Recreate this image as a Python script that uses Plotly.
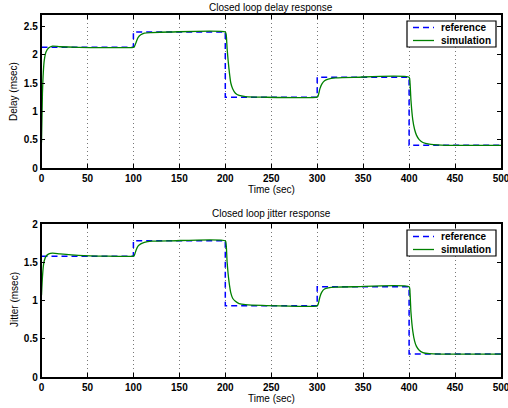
import plotly.graph_objects as go

# reference set-points (step changes)
ref_t = [0, 100, 200, 300, 400, 500]
delay_ref = [2.13, 2.40, 1.25, 1.60, 0.40, 0.40]
jitter_ref = [1.58, 1.78, 0.93, 1.18, 0.30, 0.30]

# simulated closed loop response
sim_t = [0, 1, 2, 3, 5, 8, 12, 20, 40, 100,
         101, 103, 105, 108, 112, 120, 140, 200,
         201, 202, 204, 206, 208, 211, 215, 222, 240, 300,
         301, 303, 305, 308, 312, 320, 340, 400,
         401, 402, 404, 406, 408, 411, 415, 422, 435, 450, 500]
delay_sim = [0.45, 1.30, 1.70, 1.90, 2.05, 2.12, 2.15, 2.14, 2.13, 2.13,
             2.14, 2.22, 2.30, 2.35, 2.38, 2.39, 2.40, 2.40,
             2.35, 2.10, 1.75, 1.50, 1.40, 1.32, 1.28, 1.26, 1.25, 1.25,
             1.27, 1.40, 1.48, 1.54, 1.57, 1.59, 1.60, 1.60,
             1.50, 1.20, 0.85, 0.68, 0.58, 0.50, 0.45, 0.42, 0.405, 0.40, 0.40]
jitter_sim = [1.07, 1.30, 1.45, 1.52, 1.58, 1.61, 1.62, 1.61, 1.59, 1.58,
              1.59, 1.66, 1.71, 1.74, 1.76, 1.775, 1.78, 1.78,
              1.72, 1.50, 1.25, 1.10, 1.03, 0.99, 0.96, 0.945, 0.935, 0.93,
              0.95, 1.05, 1.11, 1.15, 1.165, 1.175, 1.18, 1.18,
              1.10, 0.85, 0.60, 0.47, 0.40, 0.35, 0.32, 0.305, 0.30, 0.30, 0.30]

FONT = "Liberation Sans, Arial, sans-serif"
BLUE = "#0000ff"
GREEN = "#008000"
W, H = 508, 408

fig = go.Figure()

fig.add_trace(go.Scatter(x=ref_t, y=delay_ref, mode="lines", name="reference",
                         line=dict(color=BLUE, width=1.5, dash="6px,4px", shape="hv"),
                         xaxis="x", yaxis="y"))
fig.add_trace(go.Scatter(x=sim_t, y=delay_sim, mode="lines", name="simulation",
                         line=dict(color=GREEN, width=1.3, shape="spline", smoothing=0.6),
                         xaxis="x", yaxis="y"))
fig.add_trace(go.Scatter(x=ref_t, y=jitter_ref, mode="lines", name="reference",
                         line=dict(color=BLUE, width=1.5, dash="6px,4px", shape="hv"),
                         xaxis="x2", yaxis="y2"))
fig.add_trace(go.Scatter(x=sim_t, y=jitter_sim, mode="lines", name="simulation",
                         line=dict(color=GREEN, width=1.3, shape="spline", smoothing=0.6),
                         xaxis="x2", yaxis="y2"))

x_dom = [41.5 / W, 501 / W]
top_dom = [1 - 168 / H, 1 - 15 / H]
bot_dom = [1 - 377 / H, 1 - 224 / H]

tickfont = dict(family=FONT, size=10, color="black", weight="bold")
xax = dict(range=[0, 500], tickvals=list(range(0, 501, 50)), showgrid=True,
           gridcolor="#777777", griddash="1px,3px", gridwidth=0.8,
           showline=True, linecolor="black", linewidth=1.5, mirror="allticks",
           ticks="inside", ticklen=4, tickcolor="black", tickfont=tickfont,
           ticklabeloverflow="allow", zeroline=False, domain=x_dom, automargin=False)
yax = dict(showgrid=False, showline=True, linecolor="black", linewidth=1.5,
           mirror="allticks", ticks="inside", ticklen=4, tickcolor="black",
           tickfont=tickfont, zeroline=False, automargin=False)


def px(x):
    return x / W


def py(y):
    return 1 - y / H


# hand drawn legend boxes, one per panel
shapes = []
annotations = []
for dy in (0, 209):
    shapes.append(dict(type="rect", xref="paper", yref="paper",
                       x0=px(407), x1=px(496), y0=py(21 + dy), y1=py(47 + dy),
                       line=dict(color="black", width=1.2), fillcolor="white", layer="above"))
    shapes.append(dict(type="line", xref="paper", yref="paper",
                       x0=px(413), x1=px(434), y0=py(27.5 + dy), y1=py(27.5 + dy),
                       line=dict(color=BLUE, width=1.5, dash="6px,4px"), layer="above"))
    shapes.append(dict(type="line", xref="paper", yref="paper",
                       x0=px(413), x1=px(434), y0=py(40.5 + dy), y1=py(40.5 + dy),
                       line=dict(color=GREEN, width=1.3), layer="above"))
    for label, yy in (("reference", 27.5), ("simulation", 40.5)):
        annotations.append(dict(text=label, x=px(439), y=py(yy + dy), xref="paper", yref="paper",
                                xanchor="left", yanchor="middle", showarrow=False,
                                font=dict(size=10, weight="bold")))

for text, x, y, ang in (("Closed loop delay response", 271, 7, 0),
                        ("Time (sec)", 271, 189, 0),
                        ("Delay (msec)", 14, 92, -90),
                        ("Closed loop jitter response", 271, 213, 0),
                        ("Time (sec)", 271, 398, 0),
                        ("Jitter (msec)", 14, 300, -90)):
    annotations.append(dict(text=text, x=px(x), y=py(y), xref="paper", yref="paper",
                            xanchor="center", yanchor="middle",
                            showarrow=False, textangle=ang, font=dict(size=10)))

fig.update_layout(
    width=W, height=H,
    margin=dict(l=0, r=0, t=0, b=0),
    paper_bgcolor="white", plot_bgcolor="white",
    font=dict(family=FONT, size=10, color="black"),
    showlegend=False,
    xaxis=dict(xax, anchor="y"),
    yaxis=dict(yax, range=[0, 2.7], tickvals=[0, 0.5, 1, 1.5, 2, 2.5],
               ticktext=["0", "0.5", "1", "1.5", "2", "2.5"], domain=top_dom, anchor="x"),
    xaxis2=dict(xax, anchor="y2"),
    yaxis2=dict(yax, range=[0, 2], tickvals=[0, 0.5, 1, 1.5, 2],
                ticktext=["0", "0.5", "1", "1.5", "2"], domain=bot_dom, anchor="x2"),
    shapes=shapes,
    annotations=annotations,
)

# page has a default 8px body margin, drop it so the 508x408 figure fits the window
fig.write_html("out.html", config={"displayModeBar": False},
               post_script="document.body.style.margin='0';")
